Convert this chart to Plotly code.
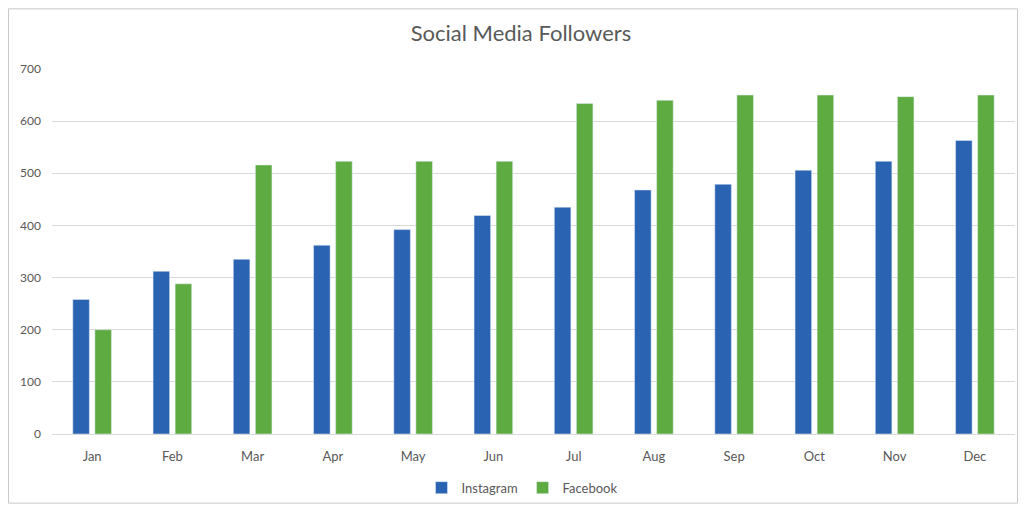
import plotly.graph_objects as go

months = ["Jan", "Feb", "Mar", "Apr", "May", "Jun", "Jul", "Aug", "Sep", "Oct", "Nov", "Dec"]
instagram = [258, 312, 335, 362, 392, 419, 435, 468, 479, 506, 523, 563]
facebook = [200, 288, 516, 523, 523, 523, 634, 640, 650, 650, 647, 650]
y_ticks = [0, 100, 200, 300, 400, 500, 600, 700]

fig = go.Figure()
fig.add_trace(go.Bar(name="Instagram", x=months, y=instagram, marker_color="#2B63B3"))
fig.add_trace(go.Bar(name="Facebook", x=months, y=facebook, marker_color="#5EAC41"))

OFF = 8  # page body margin on each side
W, H = 1026 - 2 * OFF, 514 - 2 * OFF
# target page coordinates of the plot area: left 52, right 1015, top 69, bottom 436
ml, mt = 52 - OFF, 69 - OFF
mr = (OFF + W) - 1015
mb = (OFF + H) - 436
pw, ph = W - ml - mr, H - mt - mb

fig.update_layout(
    width=W, height=H,
    margin=dict(l=ml, r=mr, t=mt, b=mb),
    paper_bgcolor="white", plot_bgcolor="white",
    barmode="group", bargap=0.45, bargroupgap=0.25,
    font=dict(family="Lato, Open Sans, sans-serif", color="#595959", size=12),
    title=dict(text="Social Media Followers", x=(521 - OFF) / W, xanchor="center",
               y=1 - (33 - OFF) / H, yanchor="middle",
               font=dict(size=22, color="#595959")),
    legend=dict(orientation="h", x=(522 - OFF - ml) / pw, xanchor="center", y=-(490 - 436) / ph,
                yanchor="middle", font=dict(size=13, color="#595959"), itemwidth=30,
                traceorder="normal", bgcolor="rgba(0,0,0,0)"),
    xaxis=dict(showgrid=False, showline=True, linecolor="#d9d9d9", ticks="", tickfont=dict(size=13),
               ticklabelstandoff=10),
    yaxis=dict(range=[0, 700], tickvals=y_ticks, showgrid=True, gridcolor="#d9d9d9", gridwidth=1,
               zeroline=False, showline=False, ticks="", tickfont=dict(size=12), ticklabelstandoff=10),
    shapes=[dict(type="rect", xref="paper", yref="paper",
                 x0=-(ml - 0.5) / pw, x1=1 + (mr - 0.5) / pw,
                 y0=-(mb - 0.5) / ph, y1=1 + (mt - 0.5) / ph,
                 line=dict(color="#c8c8c8", width=1), fillcolor="rgba(0,0,0,0)", layer="below")],
)

fig.write_html("out.html")
